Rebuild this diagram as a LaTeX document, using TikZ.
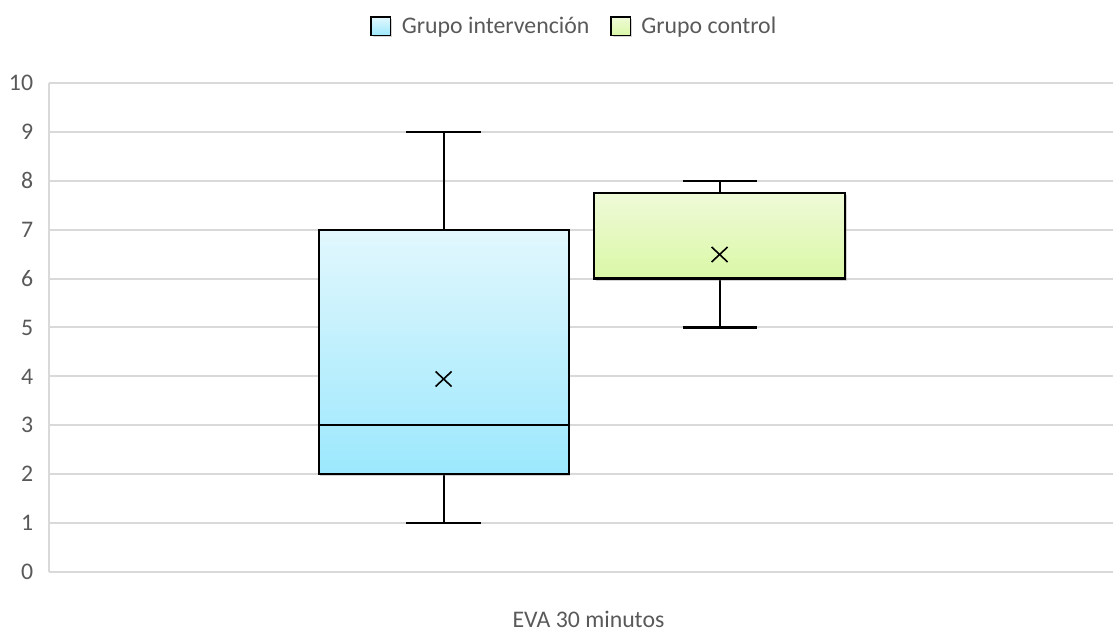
\documentclass[tikz,border=0pt]{standalone}
\usepackage{fontspec}
\setmainfont{Carlito}
\usetikzlibrary{shadows}

\definecolor{txtgray}{HTML}{595959}
\definecolor{gridgray}{HTML}{D9D9D9}
\definecolor{blueTop}{HTML}{E2F7FD}
\definecolor{blueBot}{HTML}{9CE8FD}
\definecolor{greenTop}{HTML}{EFFAD8}
\definecolor{greenBot}{HTML}{DAF8A6}

\tikzset{
  lbl/.style={text=txtgray, font=\fontsize{11.9}{13.5}\selectfont, inner sep=0pt},
  gridline/.style={draw=gridgray, line width=1pt},
  softshadow/.style={drop shadow={opacity=0.35, shadow xshift=0.9pt, shadow yshift=-1pt}},
  bluebox/.style={draw=black, line width=1.1pt, top color=blueTop, bottom color=blueBot, softshadow},
  greenbox/.style={draw=black, line width=1.1pt, top color=greenTop, bottom color=greenBot, softshadow},
  whisker/.style={draw=black, line width=1.1pt},
  meanmark/.style={draw=black, line width=0.8pt},
}

\begin{document}
\begin{tikzpicture}[x=0.5pt, y=-0.5pt]
  % canvas
  \useasboundingbox (0,0) rectangle (1115,630);

  % horizontal grid lines and value labels (value v at y = 572 - 48.9 v)
  \foreach \v in {0,...,10} {
    \pgfmathsetmacro{\yy}{572-48.9*\v}
    \draw[gridline] (49,\yy) -- (1113,\yy);
    \node[lbl, anchor=east] (tick\v) at (33.5,\yy) {\v};
  }
  % vertical axis line
  \draw[gridline] (49,83) -- (49,572);

  % ---------- Grupo intervención ----------
  \coordinate (bMaxL) at (406,131.9);
  \coordinate (bMaxR) at (481,131.9);
  \coordinate (bMax)  at (443.6,131.9);
  \coordinate (bQ3)   at (443.6,229.7);
  \coordinate (bQ1)   at (443.6,474.2);
  \coordinate (bMin)  at (443.6,523.1);
  \coordinate (bMinL) at (406,523.1);
  \coordinate (bMinR) at (481,523.1);
  \draw[whisker] (bMax) -- (bQ3);
  \draw[whisker] (bQ1) -- (bMin);
  \draw[whisker] (bMaxL) -- (bMaxR);
  \draw[whisker] (bMinL) -- (bMinR);
  \path[bluebox] (318.6,229.7) rectangle (568.6,474.2);
  \coordinate (bMedL) at (318.6,425.3);
  \coordinate (bMedR) at (568.6,425.3);
  \draw[whisker] (bMedL) -- (bMedR);
  \coordinate (bMean) at (443.6,379.0);
  \draw[meanmark] ([shift={(-8,-7.5)}]bMean) -- ([shift={(8,7.5)}]bMean)
                  ([shift={(-8,7.5)}]bMean) -- ([shift={(8,-7.5)}]bMean);

  % ---------- Grupo control ----------
  \coordinate (gMaxL) at (682.5,180.8);
  \coordinate (gMaxR) at (757,180.8);
  \coordinate (gMax)  at (719.6,180.8);
  \coordinate (gQ3)   at (719.6,193.3);
  \coordinate (gQ1)   at (719.6,278.6);
  \coordinate (gMin)  at (719.6,327.5);
  \coordinate (gMinL) at (682.5,327.5);
  \coordinate (gMinR) at (757,327.5);
  \draw[whisker] (gMax) -- (gQ3);
  \draw[whisker] (gQ1) -- (gMin);
  \draw[whisker] (gMaxL) -- (gMaxR);
  \draw[whisker] (gMinL) -- (gMinR);
  \path[greenbox] (594,193.3) rectangle (845,278.6);
  \coordinate (gMean) at (719.6,254.5);
  \draw[meanmark] ([shift={(-8,-7.5)}]gMean) -- ([shift={(8,7.5)}]gMean)
                  ([shift={(-8,7.5)}]gMean) -- ([shift={(8,-7.5)}]gMean);

  % category label
  \node[lbl] (cat) at (588.5,619) {EVA 30 minutos};

  % legend
  \path[bluebox, line width=0.9pt] (371,17) rectangle (390.5,35.5);
  \node[lbl, anchor=west] (legA) at (401.5,27) {Grupo intervención};
  \path[greenbox, line width=0.9pt] (611,17) rectangle (630.5,35.5);
  \node[lbl, anchor=west] (legB) at (641,27) {Grupo control};
\end{tikzpicture}
\end{document}
